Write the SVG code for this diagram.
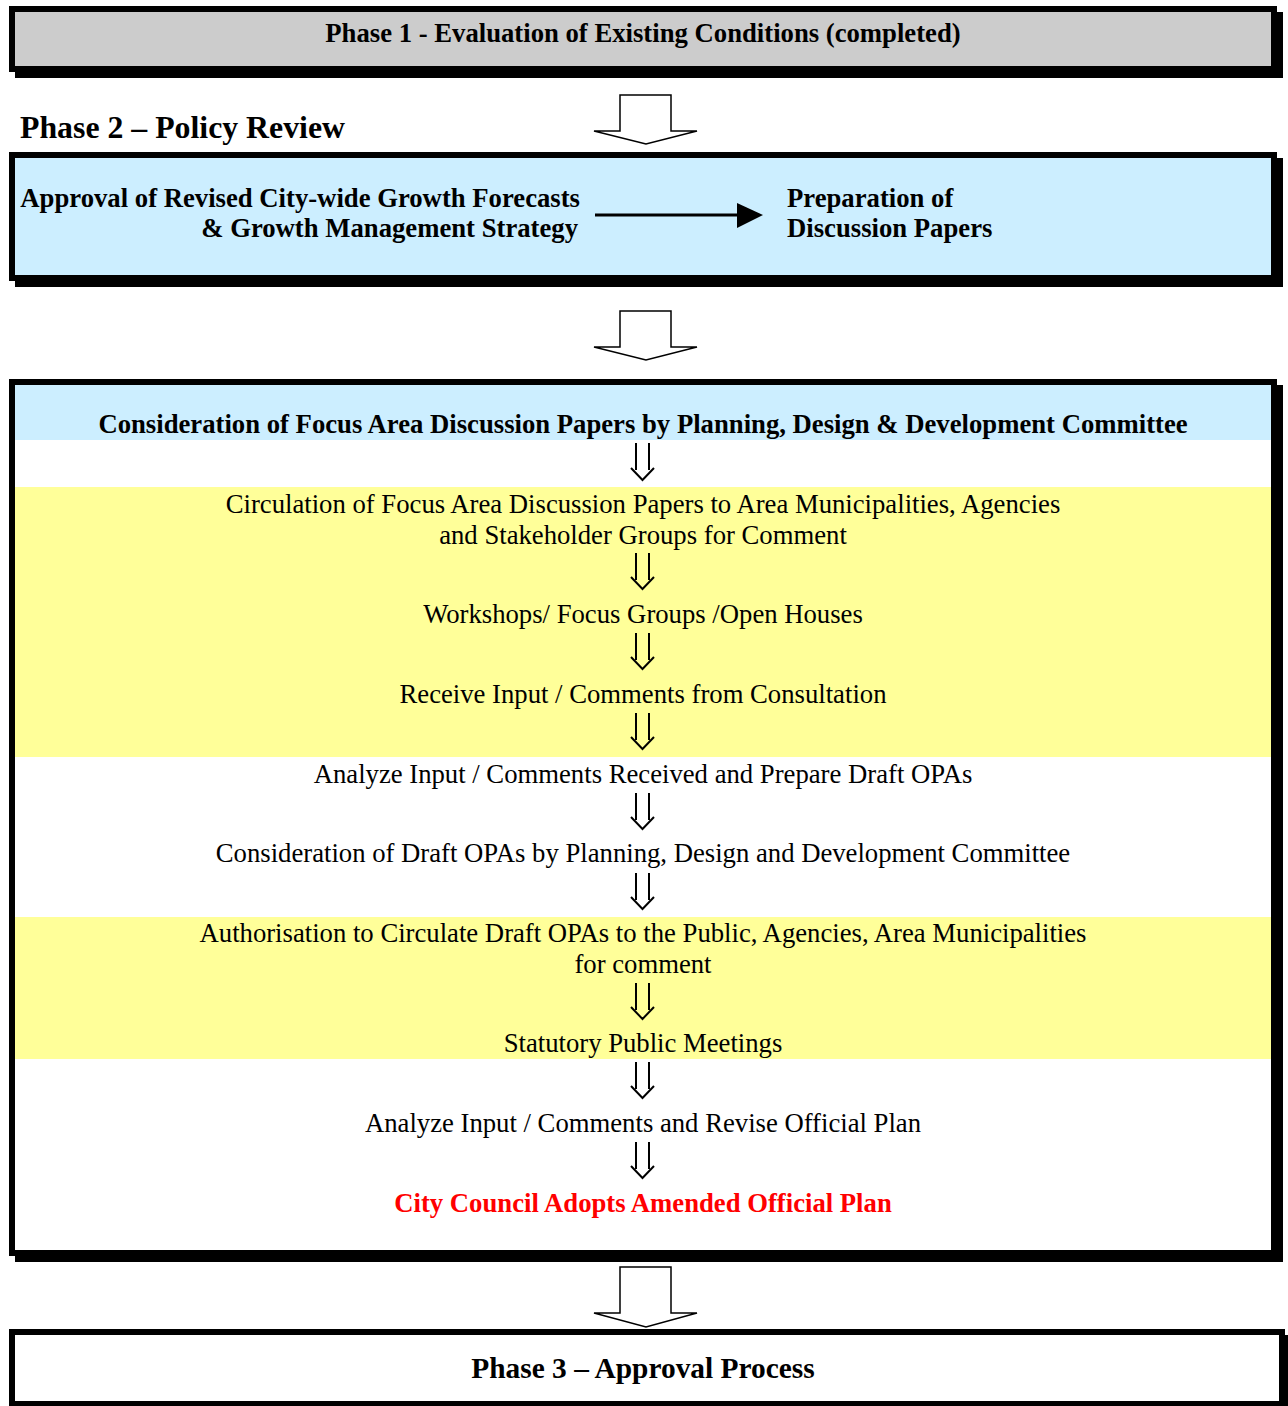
<svg xmlns="http://www.w3.org/2000/svg" width="1288" height="1406" viewBox="0 0 1288 1406">
<style>
text{font-family:"Liberation Serif","Times New Roman",serif;fill:#000}
.b{font-weight:bold}
.t{font-size:26.7px;text-anchor:middle}
.block{fill:#fff;stroke:#000;stroke-width:1.5;stroke-linejoin:miter}
.dbl{fill:none;stroke:#000;stroke-width:2}
</style>
<rect width="1288" height="1406" fill="#fff"/>
<g id="phase1">
<rect x="15" y="12" width="1268" height="66" fill="#000"/>
<rect x="9" y="6" width="1268" height="66" fill="#000"/>
<rect x="15" y="12" width="1256" height="54" fill="#cccccc"/>
<text class="b t" x="643" y="42">Phase 1 - Evaluation of Existing Conditions (completed)</text>
</g>
<g id="phase2-title">
<text class="b" x="20" y="138" font-size="31.8">Phase 2 – Policy Review</text>
</g>
<g id="phase2">
<rect x="15" y="158" width="1268" height="129" fill="#000"/>
<rect x="9" y="152" width="1268" height="129" fill="#000"/>
<rect x="15" y="158" width="1256" height="117" fill="#cceeff"/>
<text class="b" x="580" y="207" font-size="26.7" text-anchor="end">Approval of Revised City-wide Growth Forecasts</text>
<text class="b" x="578" y="237" font-size="26.7" text-anchor="end">&amp; Growth Management Strategy</text>
<text class="b" x="787" y="207" font-size="26.7">Preparation of</text>
<text class="b" x="787" y="237" font-size="26.7">Discussion Papers</text>
</g>
<g id="main">
<rect x="15" y="385" width="1268" height="877" fill="#000"/>
<rect x="9" y="379" width="1268" height="877" fill="#000"/>
<rect x="15" y="385" width="1256" height="865" fill="#fff"/>
<rect x="15" y="385" width="1256" height="55" fill="#cceeff"/>
<rect x="15" y="487" width="1256" height="270" fill="#ffff99"/>
<rect x="15" y="917" width="1256" height="142" fill="#ffff99"/>
<text class="b t" x="643" y="433">Consideration of Focus Area Discussion Papers by Planning, Design &amp; Development Committee</text>
<text class="t" x="643" y="513">Circulation of Focus Area Discussion Papers to Area Municipalities, Agencies</text>
<text class="t" x="643" y="544">and Stakeholder Groups for Comment</text>
<text class="t" x="643" y="623">Workshops/ Focus Groups /Open Houses</text>
<text class="t" x="643" y="703">Receive Input / Comments from Consultation</text>
<text class="t" x="643" y="783">Analyze Input / Comments Received and Prepare Draft OPAs</text>
<text class="t" x="643" y="862">Consideration of Draft OPAs by Planning, Design and Development Committee</text>
<text class="t" x="643" y="942">Authorisation to Circulate Draft OPAs to the Public, Agencies, Area Municipalities</text>
<text class="t" x="643" y="973">for comment</text>
<text class="t" x="643" y="1052">Statutory Public Meetings</text>
<text class="t" x="643" y="1132">Analyze Input / Comments and Revise Official Plan</text>
<text class="b t" x="643" y="1212" style="fill:#ff0000">City Council Adopts Amended Official Plan</text>
</g>
<g id="phase3">
<rect x="15" y="1335" width="1276" height="80" fill="#000"/>
<rect x="9" y="1329" width="1276" height="80" fill="#000"/>
<rect x="15" y="1335" width="1264" height="66" fill="#fff"/>
<text class="b" x="643" y="1378" font-size="29.4" text-anchor="middle">Phase 3 – Approval Process</text>
</g>
<g id="connectors">
<polygon class="block" points="620,95 671,95 671,131 697,131 646,144 594,131 620,131"/>
<polygon class="block" points="620,311 671,311 671,347 697,347 646,360 594,347 620,347"/>
<polygon class="block" points="620,1267 671,1267 671,1313 697,1313 646,1327 594,1313 620,1313"/>
<line x1="595" y1="215" x2="740" y2="215" stroke="#000" stroke-width="3"/>
<polygon points="737,203 763,215 737,228" fill="#000"/>
<path class="dbl" d="M636,443V470M649,443V470M631,468L642.5,480L654,468"/>
<path class="dbl" d="M636,553V580M649,553V580M631,577L642.5,589L654,577"/>
<path class="dbl" d="M636,633V660M649,633V660M631,657L642.5,669L654,657"/>
<path class="dbl" d="M636,713V740M649,713V740M631,737L642.5,749L654,737"/>
<path class="dbl" d="M636,793V820M649,793V820M631,817L642.5,829L654,817"/>
<path class="dbl" d="M636,873V900M649,873V900M631,897L642.5,909L654,897"/>
<path class="dbl" d="M636,983V1010M649,983V1010M631,1007L642.5,1019L654,1007"/>
<path class="dbl" d="M636,1062V1089M649,1062V1089M631,1086L642.5,1098L654,1086"/>
<path class="dbl" d="M636,1142V1169M649,1142V1169M631,1166L642.5,1178L654,1166"/>
</g>
</svg>
